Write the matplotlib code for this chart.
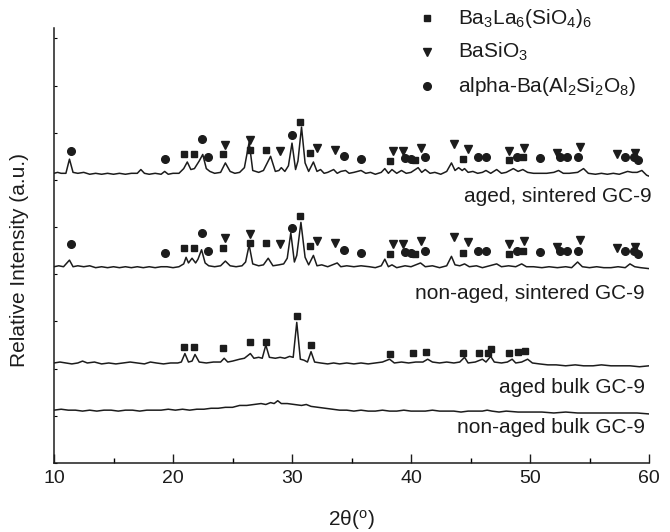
import numpy as np
import matplotlib.pyplot as plt
from matplotlib.lines import Line2D

plt.rcParams['font.family'] = ['Liberation Sans', 'DejaVu Sans']
plt.rcParams['mathtext.fontset'] = 'custom'
plt.rcParams['mathtext.rm'] = 'Liberation Sans'
plt.rcParams['mathtext.it'] = 'Liberation Sans:italic'

# ---- traces: 2theta and intensity above each trace's own baseline (a.u.) ----
tt_aged_sint = [10.0, 10.3, 10.6, 11.0, 11.3, 11.6, 12.0, 12.5, 13.0, 13.5, 14.0, 14.5, 15.0, 15.5,
                16.0, 16.5, 17.0, 17.3, 17.6, 18.0, 18.5, 19.0, 19.3, 19.6, 20.0, 20.5, 20.9, 21.2,
                21.5, 21.8, 22.2, 22.5, 22.8, 23.1, 23.5, 24.0, 24.4, 24.8, 25.2, 25.6, 26.0, 26.4,
                26.7, 27.2, 27.6, 28.2, 28.6, 28.9, 29.1, 29.4, 29.7, 30.0, 30.3, 30.5, 30.8, 31.1,
                31.4, 31.8, 32.1, 32.4, 32.7, 33.0, 33.5, 33.8, 34.1, 34.5, 34.8, 35.2, 35.8, 36.2,
                36.6, 37.0, 37.5, 37.8, 38.1, 38.4, 38.8, 39.2, 39.6, 40.0, 40.6, 40.9, 41.2, 41.6,
                42.0, 42.5, 43.0, 43.4, 43.7, 44.0, 44.3, 44.5, 44.8, 45.2, 45.6, 46.0, 46.3, 46.7,
                47.2, 47.6, 48.0, 48.6, 49.0, 49.4, 49.8, 50.3, 50.8, 51.4, 52.0, 52.4, 52.8, 53.3,
                54.0, 54.5, 54.9, 55.5, 56.0, 56.5, 57.0, 57.5, 58.2, 58.6, 59.0, 59.4, 59.8, 60.0]
i_aged_sint = [0, 1, 0, 0, 15, 1, 0, 1, -1, 0, -1, 0, -1, 0,
               -1, 0, 0, 4, 0, -1, 0, -1, 2, -1, 0, 0, 5, 12,
               4, 5, 13, 20, 5, 2, 0, 1, 11, 2, 0, 1, 6, 33,
               3, 1, 3, 18, 2, 3, 6, 2, 8, 32, 4, 13, 49, 11,
               2, 12, 2, 4, 0, 1, 4, 0, 2, 3, 0, 1, 3, 0,
               1, -1, 1, 5, 0, 4, 0, 3, 0, 1, 6, 1, 4, 0,
               1, -1, 2, 11, 3, 6, 3, 5, 1, 2, 0, 1, 3, 0,
               4, 0, 1, 5, 2, 4, 1, 0, 0, 0, 1, 3, 0, 0,
               1, 5, 0, -1, 0, -1, 0, -1, 2, 1, 1, 3, -2, -3]

tt_nonaged_sint = [10.0, 10.4, 10.8, 11.3, 11.6, 12.0, 12.5, 13.0, 13.5, 14.0, 14.5, 15.0, 15.5, 16.0,
                   16.5, 17.0, 17.5, 18.0, 18.5, 19.0, 19.5, 20.0, 20.5, 20.9, 21.1, 21.3, 21.6, 21.9,
                   22.1, 22.4, 22.7, 23.0, 23.5, 24.0, 24.4, 24.8, 25.3, 25.8, 26.1, 26.4, 26.7, 27.2,
                   27.6, 28.0, 28.4, 28.9, 29.3, 29.6, 29.9, 30.2, 30.4, 30.75, 31.1, 31.4, 31.8, 32.1,
                   32.5, 33.0, 33.8, 34.1, 34.6, 35.2, 35.8, 36.5, 37.0, 37.5, 37.8, 38.1, 38.4, 38.8,
                   39.5, 40.0, 40.8, 41.2, 41.8, 42.4, 43.0, 43.4, 43.7, 44.1, 44.5, 44.9, 45.5, 46.0,
                   46.6, 47.2, 47.6, 48.2, 48.8, 49.3, 49.7, 50.3, 51.0, 51.6, 52.3, 53.0, 53.5, 54.0,
                   54.4, 55.0, 55.6, 56.2, 56.8, 57.4, 58.0, 58.4, 58.8, 59.3, 60.0]
i_nonaged_sint = [0, 1, 0, 7, 0, 1, 0, 1, -1, 0, -1, 0, -1, 0,
                  -1, 0, -1, 0, -1, 0, 0, -1, 0, 3, 10, 4, 9, 4,
                  8, 18, 4, 1, 0, 1, 6, 1, 0, 1, 5, 23, 3, 1,
                  2, 9, 1, 2, 3, 9, 36, 5, 12, 47, 10, 2, 12, 1,
                  2, 0, 4, 0, 1, 0, 1, 0, -1, 1, 8, 0, 2, -1,
                  1, 0, 4, 0, 1, -1, 1, 11, 2, 1, 3, 0, 1, -1,
                  1, 3, 0, 1, 0, 3, 0, 0, -1, 0, -1, 0, -1, 5,
                  0, -1, 0, -1, -1, 0, -1, 3, 0, -1, -2]

tt_aged_bulk = [10.0, 10.5, 11.0, 11.5, 12.0, 12.4, 12.8, 13.4, 14.0, 14.6, 15.2, 15.8, 16.4, 17.0,
                17.6, 18.1, 18.6, 19.2, 19.8, 20.4, 20.7, 21.0, 21.3, 21.6, 21.85, 22.2, 22.8, 23.4,
                24.0, 24.3, 24.6, 25.0, 25.6, 26.0, 26.5, 26.8, 27.2, 27.5, 27.8, 28.1, 28.6, 29.0,
                29.4, 29.8, 30.1, 30.4, 30.7, 31.0, 31.3, 31.6, 31.9, 32.4, 33.0, 33.5, 34.0, 34.6,
                35.2, 35.8, 36.4, 37.0, 37.6, 38.2, 38.6, 39.2, 39.8, 40.4, 41.0, 41.4, 41.8, 42.4,
                43.0, 43.6, 44.1, 44.5, 44.8, 45.4, 46.0, 46.3, 46.7, 47.0, 47.6, 48.1, 48.5, 48.8,
                49.3, 49.8, 50.2, 50.8, 51.5, 52.2, 53.0, 53.8, 54.5, 55.3, 56.0, 56.8, 57.6, 58.4,
                59.2, 60.0]
i_aged_bulk = [0, 1, 0, -1, 0, 2, 0, 1, -1, 0, -1, 0, 1, 0,
               -1, 1, 0, -1, 0, 0, 1, 10, 1, 2, 9, 1, 0, 1,
               1, 5, 1, 2, 4, 5, 10, 5, 6, 5, 19, 6, 5, 6,
               5, 7, 6, 43, 4, 3, 1, 12, 1, 0, -1, 0, -1, 0,
               -1, 0, -1, 0, 1, 4, 0, 1, 0, 1, 1, 4, 1, 0,
               1, 0, 1, 6, 0, 1, 4, 1, 7, 1, 0, 1, 4, 0,
               1, 4, 0, -1, -2, -2, -3, -2, -3, -3, -2, -3, -3, -3,
               -4, -3]

tt_nonaged_bulk = [10.0, 10.6, 11.2, 11.8, 12.4, 13.0, 13.6, 14.2, 14.8, 15.4, 16.0, 16.6, 17.2, 17.8,
                   18.4, 19.0, 19.6, 20.2, 20.8, 21.4, 22.0, 22.6, 23.2, 23.8, 24.4, 25.0, 25.6, 26.2,
                   26.8, 27.4, 27.8, 28.2, 28.5, 28.8, 29.1, 29.6, 30.2, 30.8, 31.2, 31.6, 32.2, 32.8,
                   33.4, 34.0, 34.6, 35.2, 35.8, 36.4, 37.0, 37.6, 38.2, 38.8, 39.4, 40.0, 40.6, 41.2,
                   41.8, 42.4, 43.0, 43.6, 44.2, 44.8, 45.4, 46.0, 46.4, 46.8, 47.4, 48.0, 49.0, 50.0,
                   51.0, 52.0, 53.0, 54.0, 55.0, 56.0, 57.0, 58.0, 59.0, 60.0]
i_nonaged_bulk = [0, 1, 0, 0, -1, 0, -1, 0, 0, -1, 0, 0, -1, 0,
                  0, 0, 1, 0, 1, 0, 1, 1, 2, 2, 3, 3, 5, 5,
                  6, 7, 6, 8, 7, 10, 7, 7, 6, 5, 6, 4, 3, 2,
                  1, 0, 0, -1, 0, -1, -1, 0, -1, -1, 0, -1, -1, -1,
                  0, -1, -1, -1, -2, -1, -1, -1, 0, -1, -2, -1, -2, -2,
                  -2, -3, -2, -3, -3, -3, -3, -3, -3, -4]

offsets = [307, 208, 106, 56]
sample_names = ['aged, sintered GC-9', 'non-aged, sintered GC-9', 'aged bulk GC-9', 'non-aged bulk GC-9']

# ---- phase markers (position, height above the trace baseline) ----
sq_pos = [20.9, 21.8, 24.2, 26.5, 27.8, 30.7, 31.5, 38.2, 40.3, 44.4, 48.2, 49.4]
sq_h = [20, 20, 20, 25, 25, 54, 22, 13, 14, 15, 14, 17]
tri_pos = [24.4, 26.5, 29.0, 32.1, 33.6, 38.5, 39.3, 40.8, 43.6, 44.8, 48.2, 49.5, 52.3, 54.2, 57.3, 58.8]
tri_h = [30, 35, 24, 27, 25, 24, 24, 27, 31, 26, 24, 27, 21, 28, 20, 21]
circ_pos = [11.4, 19.3, 22.4, 22.9, 30.0, 34.4, 35.8, 39.5, 40.0, 41.2, 45.6, 46.3, 48.9, 50.8,
            52.5, 53.1, 54.0, 58.0, 58.7, 59.1]
circ_h = [24, 15, 36, 17, 41, 18, 15, 16, 15, 17, 17, 17, 17, 16, 17, 17, 17, 17, 17, 14]

bulk_sq_pos = [20.9, 21.8, 24.2, 26.5, 27.8, 30.4, 31.6, 38.2, 40.2, 41.3, 44.4, 45.7, 46.5, 46.7,
               48.2, 49.0, 49.6]
bulk_sq_h = [17, 17, 16, 22, 22, 50, 19, 10, 11, 12, 11, 11, 11, 15, 11, 12, 13]

ink = '#1c1c1c'
fig = plt.figure(figsize=(6.7, 5.32), dpi=100)
ax = fig.add_axes([54 / 670, 69 / 532, 595 / 670, 435 / 532])

traces = [(tt_aged_sint, i_aged_sint), (tt_nonaged_sint, i_nonaged_sint),
          (tt_aged_bulk, i_aged_bulk), (tt_nonaged_bulk, i_nonaged_bulk)]
for (tt, ii), off in zip(traces, offsets):
    ax.plot(tt, np.array(ii) + off, color=ink, lw=1.1)

# sintered samples carry all three phases
for off in offsets[:2]:
    ax.plot(sq_pos, np.array(sq_h) + off, ls='none', marker='s', ms=5, color=ink)
    ax.plot(tri_pos, np.array(tri_h) + off, ls='none', marker='v', ms=6, color=ink)
    ax.plot(circ_pos, np.array(circ_h) + off, ls='none', marker='o', ms=5.5, color=ink)
ax.plot(bulk_sq_pos, np.array(bulk_sq_h) + offsets[2], ls='none', marker='s', ms=5, color=ink)

label_x = [60.2, 59.6, 59.7, 59.7]
label_y = [282, 180, 80, 38]
for name, x, y in zip(sample_names, label_x, label_y):
    ax.text(x, y, name, ha='right', va='center', fontsize=15, color=ink)

ax.set_xlim(10, 60)
ax.set_ylim(0, 461)
ax.set_xticks(range(10, 61, 10))
ax.set_xticks(range(15, 60, 10), minor=True)
ax.set_yticks(range(0, 461, 50))
ax.set_yticklabels([])
for s in ['top', 'right']:
    ax.spines[s].set_visible(False)
for s in ['left', 'bottom']:
    ax.spines[s].set_linewidth(1.1)
    ax.spines[s].set_color(ink)
ax.tick_params(axis='x', which='major', direction='in', length=6.5, width=1.0, labelsize=14, pad=5, colors=ink)
ax.tick_params(axis='x', which='minor', direction='in', length=3.5, width=1.0)
ax.tick_params(axis='y', which='major', direction='in', length=2.5, width=0.8)

fig.text(0.5 * (54 + 649) / 670, 1 - 520 / 532, '2θ($^{\\mathrm{o}}$)', ha='center', va='center',
         fontsize=15, color=ink)
fig.text(20 / 670, 1 - 260 / 532, 'Relative Intensity (a.u.)', rotation=90, ha='center', va='center',
         fontsize=15, color=ink)

# legend, placed by hand in figure coordinates
leg_items = [('s', 5, r'Ba$_3$La$_6$(SiO$_4$)$_6$'),
             ('v', 6, r'BaSiO$_3$'),
             ('o', 5.5, r'alpha-Ba(Al$_2$Si$_2$O$_8$)')]
for k, (m, ms, txt) in enumerate(leg_items):
    yy = 1 - (18 + 34 * k) / 532
    fig.add_artist(Line2D([427 / 670], [yy], transform=fig.transFigure, ls='none',
                          marker=m, ms=ms, color=ink))
    fig.text(458 / 670, yy, txt, ha='left', va='center', fontsize=15, color=ink)

fig.savefig('out.png', dpi=100)
